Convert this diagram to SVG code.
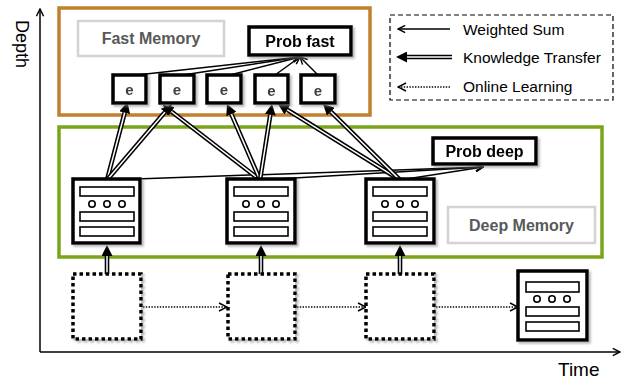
<svg xmlns="http://www.w3.org/2000/svg" width="622" height="381" viewBox="0 0 622 381">
<style>
.lbl{font-family:"Liberation Sans",Arial,sans-serif;fill:#000}
.b{font-weight:bold}
.gr{fill:#595959}
.ge{fill:#404040}
.node{fill:#fff;stroke:#000;stroke-width:3.5}
.bar{fill:#fff;stroke:#000;stroke-width:1.6}
.kt{stroke:#000;stroke-width:4.6;fill:none}
.ktw{stroke:#fff;stroke-width:1.5;fill:none}
.ws{stroke:#000;stroke-width:1.5;fill:none}
.ol{stroke:#000;stroke-width:1.6;stroke-dasharray:1.4 1.4;fill:none}
.dot{fill:#fff;stroke:#000;stroke-width:3.5;stroke-dasharray:3.5 3}
.gbox{fill:#fff;stroke:#d3d3d3;stroke-width:2.5}
</style>
<defs>
<filter id="sh" x="-20%" y="-20%" width="140%" height="140%">
<feDropShadow dx="2" dy="2" stdDeviation="1" flood-color="#888" flood-opacity="0.6"/>
</filter>
<marker id="tri" viewBox="0 0 11 11" refX="0" refY="5.5" markerWidth="11" markerHeight="11" markerUnits="userSpaceOnUse" orient="auto">
<path d="M0,0 L11,5.5 L0,11 z" fill="#000"/>
</marker>
<marker id="vee" viewBox="0 0 10 10" refX="9" refY="5" markerWidth="9" markerHeight="9" markerUnits="userSpaceOnUse" orient="auto">
<path d="M1,1 L9,5 L1,9" fill="none" stroke="#000" stroke-width="1.6"/>
</marker>
<marker id="vee2" viewBox="0 0 10 10" refX="9" refY="5" markerWidth="10" markerHeight="10" markerUnits="userSpaceOnUse" orient="auto">
<path d="M1,1 L9,5 L1,9" fill="none" stroke="#000" stroke-width="1.4"/>
</marker>
</defs>
<rect width="622" height="381" fill="#fff"/>

<g id="axes">
<line x1="40" y1="352" x2="40" y2="9" class="ws" marker-end="url(#vee)"/>
<line x1="40" y1="352" x2="620" y2="352" class="ws" marker-end="url(#vee)"/>
<text class="lbl" x="16" y="44" font-size="18" text-anchor="middle" transform="rotate(90 16 44)">Depth</text>
<text class="lbl" x="558" y="376" font-size="19">Time</text>
</g>

<g id="fast-memory-container">
<rect x="59" y="8" width="311" height="107" fill="none" stroke="#c0802e" stroke-width="3.5"/>
<rect class="gbox" x="78" y="21" width="146" height="35"/>
<text class="lbl b gr" x="151" y="44" font-size="16" text-anchor="middle">Fast Memory</text>
</g>

<g id="deep-memory-container">
<rect x="59" y="127" width="543" height="130" fill="none" stroke="#7aa51a" stroke-width="3.5"/>
<rect class="gbox" x="448" y="207" width="147" height="36"/>
<text class="lbl b gr" x="521.5" y="231" font-size="16" text-anchor="middle">Deep Memory</text>
</g>

<g id="legend">
<rect x="390" y="15" width="223" height="85" fill="#fff" stroke="#000" stroke-width="1.2" stroke-dasharray="5 3"/>
<line x1="450" y1="29" x2="398" y2="29" class="ws" marker-end="url(#vee)"/>
<line x1="452" y1="57" x2="407" y2="57" class="kt" marker-end="url(#tri)"/>
<line x1="452" y1="57" x2="407" y2="57" class="ktw"/>
<line x1="450" y1="87" x2="398" y2="87" class="ol" marker-end="url(#vee2)"/>
<text class="lbl" x="463" y="35" font-size="15.5">Weighted Sum</text>
<text class="lbl" x="463" y="63" font-size="15.5">Knowledge Transfer</text>
<text class="lbl" x="463" y="92" font-size="15.5">Online Learning</text>
</g>

<g id="connectors">
<line x1="137" y1="75" x2="300" y2="57" class="ws" marker-end="url(#vee)"/>
<line x1="183" y1="75" x2="300" y2="57" class="ws" marker-end="url(#vee)"/>
<line x1="230" y1="75" x2="300" y2="57" class="ws" marker-end="url(#vee)"/>
<line x1="275" y1="75" x2="300" y2="57" class="ws" marker-end="url(#vee)"/>
<line x1="318" y1="75" x2="300" y2="57" class="ws" marker-end="url(#vee)"/>
<line x1="107" y1="180" x2="483" y2="167" class="ws" marker-end="url(#vee)"/>
<line x1="260" y1="180" x2="483" y2="167" class="ws" marker-end="url(#vee)"/>
<line x1="400" y1="180" x2="483" y2="167" class="ws" marker-end="url(#vee)"/>
<line x1="107" y1="180" x2="124.7" y2="112.7" class="kt" marker-end="url(#tri)"/>
<line x1="107.51" y1="178.07" x2="124.7" y2="112.7" class="ktw"/>
<line x1="107" y1="180" x2="164.85" y2="112.36" class="kt" marker-end="url(#tri)"/>
<line x1="108.3" y1="178.48" x2="164.85" y2="112.36" class="ktw"/>
<line x1="260" y1="180" x2="171.4" y2="111.48" class="kt" marker-end="url(#tri)"/>
<line x1="258.53" y1="178.64" x2="171.4" y2="111.48" class="ktw"/>
<line x1="260" y1="180" x2="231.38" y2="114.09" class="kt" marker-end="url(#tri)"/>
<line x1="259.2" y1="178.17" x2="231.38" y2="114.09" class="ktw"/>
<line x1="260" y1="180" x2="270.28" y2="114.87" class="kt" marker-end="url(#tri)"/>
<line x1="260.31" y1="178.02" x2="270.28" y2="114.87" class="ktw"/>
<line x1="400" y1="180" x2="287.34" y2="109.82" class="kt" marker-end="url(#tri)"/>
<line x1="398.3" y1="178.94" x2="287.34" y2="109.82" class="ktw"/>
<line x1="400" y1="180" x2="330.83" y2="111.73" class="kt" marker-end="url(#tri)"/>
<line x1="398.58" y1="178.6" x2="330.83" y2="111.73" class="ktw"/>
<line x1="107" y1="276" x2="107" y2="256" class="kt" marker-end="url(#tri)"/>
<line x1="107" y1="276" x2="107" y2="256" class="ktw"/>
<line x1="261" y1="276" x2="261" y2="256" class="kt" marker-end="url(#tri)"/>
<line x1="261" y1="276" x2="261" y2="256" class="ktw"/>
<line x1="400" y1="276" x2="400" y2="256" class="kt" marker-end="url(#tri)"/>
<line x1="400" y1="276" x2="400" y2="256" class="ktw"/>
<line x1="143" y1="307" x2="227" y2="307" class="ol" marker-end="url(#vee2)"/>
<line x1="297" y1="307" x2="366" y2="307" class="ol" marker-end="url(#vee2)"/>
<line x1="436" y1="307" x2="518" y2="307" class="ol" marker-end="url(#vee2)"/>
</g>

<g id="prob-fast" filter="url(#sh)">
<rect class="node" x="249" y="27" width="102" height="28"/>
<text class="lbl b" x="300" y="47" font-size="16" text-anchor="middle">Prob fast</text>
</g>
<g id="prob-deep" filter="url(#sh)">
<rect class="node" x="433" y="138" width="103" height="26"/>
<text class="lbl b" x="484.5" y="157" font-size="16" text-anchor="middle">Prob deep</text>
</g>

<g id="e1" filter="url(#sh)"><rect class="node" x="113" y="75" width="33" height="28"/><text class="lbl b ge" x="129.5" y="95" font-size="15" text-anchor="middle">e</text></g>
<g id="e2" filter="url(#sh)"><rect class="node" x="160" y="75" width="34" height="28"/><text class="lbl b ge" x="177" y="95" font-size="15" text-anchor="middle">e</text></g>
<g id="e3" filter="url(#sh)"><rect class="node" x="207" y="75" width="34" height="28"/><text class="lbl b ge" x="224" y="95" font-size="15" text-anchor="middle">e</text></g>
<g id="e4" filter="url(#sh)"><rect class="node" x="255" y="75" width="33" height="28"/><text class="lbl b ge" x="271.5" y="96" font-size="15" text-anchor="middle">e</text></g>
<g id="e5" filter="url(#sh)"><rect class="node" x="301" y="75" width="34" height="28"/><text class="lbl b ge" x="318" y="96" font-size="15" text-anchor="middle">e</text></g>

<g id="deep1" filter="url(#sh)">
<rect class="node" x="73" y="179" width="67" height="64"/>
<rect class="bar" x="80" y="187" width="54" height="9"/>
<circle class="bar" cx="92" cy="204" r="3.2"/><circle class="bar" cx="107" cy="204" r="3.2"/><circle class="bar" cx="122" cy="204" r="3.2"/>
<rect class="bar" x="80" y="212" width="54" height="9"/>
<rect class="bar" x="80" y="227" width="54" height="9"/>
</g>
<g id="deep2" filter="url(#sh)">
<rect class="node" x="227" y="179" width="68" height="64"/>
<rect class="bar" x="234" y="187" width="54" height="9"/>
<circle class="bar" cx="246" cy="204" r="3.2"/><circle class="bar" cx="261" cy="204" r="3.2"/><circle class="bar" cx="276" cy="204" r="3.2"/>
<rect class="bar" x="234" y="212" width="54" height="9"/>
<rect class="bar" x="234" y="227" width="54" height="9"/>
</g>
<g id="deep3" filter="url(#sh)">
<rect class="node" x="366" y="179" width="68" height="64"/>
<rect class="bar" x="373" y="187" width="54" height="9"/>
<circle class="bar" cx="385" cy="204" r="3.2"/><circle class="bar" cx="400" cy="204" r="3.2"/><circle class="bar" cx="415" cy="204" r="3.2"/>
<rect class="bar" x="373" y="212" width="54" height="9"/>
<rect class="bar" x="373" y="227" width="54" height="9"/>
</g>

<g id="online1" filter="url(#sh)"><rect class="dot" x="73" y="274" width="68" height="65"/></g>
<g id="online2" filter="url(#sh)"><rect class="dot" x="228" y="274" width="67" height="65"/></g>
<g id="online3" filter="url(#sh)"><rect class="dot" x="366" y="274" width="68" height="65"/></g>

<g id="final-model" filter="url(#sh)">
<rect class="node" x="518" y="271" width="69" height="69"/>
<rect class="bar" x="526" y="282" width="53" height="10"/>
<circle class="bar" cx="537" cy="299" r="3.2"/><circle class="bar" cx="552" cy="299" r="3.2"/><circle class="bar" cx="567" cy="299" r="3.2"/>
<rect class="bar" x="526" y="307" width="53" height="9"/>
<rect class="bar" x="526" y="322" width="53" height="9"/>
</g>
</svg>
